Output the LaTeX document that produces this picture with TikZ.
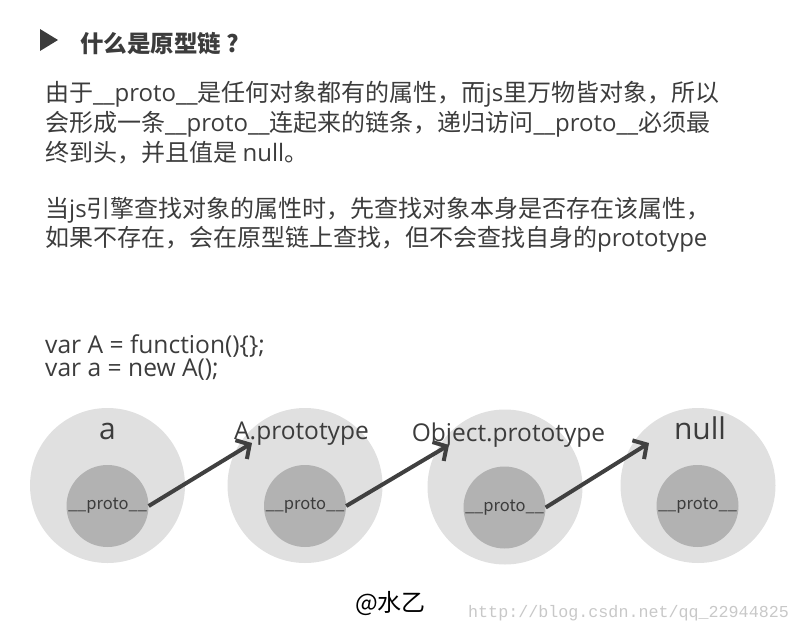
\documentclass[tikz,border=0pt]{standalone}
\usepackage{fontspec}
\setmainfont{Noto Sans CJK SC}
\newfontfamily\lat{Open Sans}
\newfontfamily\urlfont{Liberation Mono}
\usetikzlibrary{arrows.meta}
\definecolor{txt}{HTML}{3C3C3C}
\definecolor{outerc}{HTML}{E0E0E0}
\definecolor{innerc}{HTML}{B2B2B2}
\definecolor{arr}{HTML}{404040}
\definecolor{urlc}{HTML}{C8C8C8}
\newcommand{\pr}{{\lat\_\_proto\_\_}}
\tikzset{
  body/.style={anchor=base west, inner sep=0pt, text=txt, font=\fontsize{24}{30}\selectfont},
  code/.style={anchor=base west, inner sep=0pt, text=txt, font=\lat\fontsize{24.6}{26}\selectfont},
  outerbubble/.style={circle, fill=outerc, minimum size=155pt, inner sep=0pt},
  innerbubble/.style={circle, fill=innerc, minimum size=82pt, inner sep=0pt, text=txt, font=\fontsize{16.5}{18}\selectfont},
  biglabel/.style={anchor=base, inner sep=0pt, text=txt, font=\lat\fontsize{30}{32}\selectfont},
  lbl/.style={anchor=base, inner sep=0pt, text=txt, font=\lat\fontsize{24.5}{26}\selectfont},
  link/.style={draw=arr, line width=4pt, -{Straight Barb[length=10pt,width=22pt]}},
}
\begin{document}
\begin{tikzpicture}[x=1pt,y=-1pt]
\useasboundingbox (0,0) rectangle (800,632);
% title
\fill[fill=txt] (40,29) -- (58,40) -- (40,51) -- cycle;
\node[anchor=base west, inner sep=0pt, text=txt, font=\fontsize{23.5}{26}\selectfont\bfseries] (title) at (80,52) {什么是原型链\makebox[1em][c]{?}};
% paragraph 1
\node[body] (l1) at (45,101) {由于\pr 是任何对象都有的属性，而{\lat js}里万物皆对象，所以};
\node[body] (l2) at (45,131) {会形成一条\pr 连起来的链条，递归访问\pr 必须最};
\node[body] (l3) at (45,161) {终到头，并且值是 {\lat null}。};
% paragraph 2
\node[body] (l4) at (45,217) {当{\lat js}引擎查找对象的属性时，先查找对象本身是否存在该属性，};
\node[body] (l5) at (45,246) {如果不存在，会在原型链上查找，但不会查找自身的{\lat prototype}};
% code
\node[code] (c1) at (45,353) {var A = function()\{\};};
\node[code] (c2) at (45,376.5) {var a = new A();};
% bubbles
\node[outerbubble] (o1) at (107.5,485.5) {};
\node[outerbubble] (o2) at (305,485.5) {};
\node[outerbubble] (o3) at (505,487) {};
\node[outerbubble] (o4) at (698,485.5) {};
\node[innerbubble] (p1) at (107.5,506) {\_\_proto\_\_};
\node[innerbubble] (p2) at (305,506) {\_\_proto\_\_};
\node[innerbubble] (p3) at (504.5,507.5) {\_\_proto\_\_};
\node[innerbubble] (p4) at (697.5,506) {\_\_proto\_\_};
\node[biglabel] (n1) at (107.5,439) {a};
\node[lbl] (n2) at (301.5,439) {A.prototype};
\node[lbl] (n3) at (508.5,441) {Object.prototype};
\node[biglabel] (n4) at (700,439) {null};
% arrows
\coordinate (t1) at (252,443);
\coordinate (t2) at (449,445);
\coordinate (t3) at (649,443);
\draw[link] (p1.east) -- (t1);
\draw[link] (p2.east) -- (t2);
\draw[link] (p3.east) -- (t3);
% watermark
\node[anchor=base west, inner sep=0pt, text=black, font=\fontsize{24}{26}\selectfont] (wm) at (355,611) {@水乙};
\node[anchor=base west, inner sep=0pt, text=urlc, font=\urlfont\fontsize{16.7}{18}\selectfont] (url) at (468,617) {http://blog.csdn.net/qq\_22944825};
\end{tikzpicture}
\end{document}
